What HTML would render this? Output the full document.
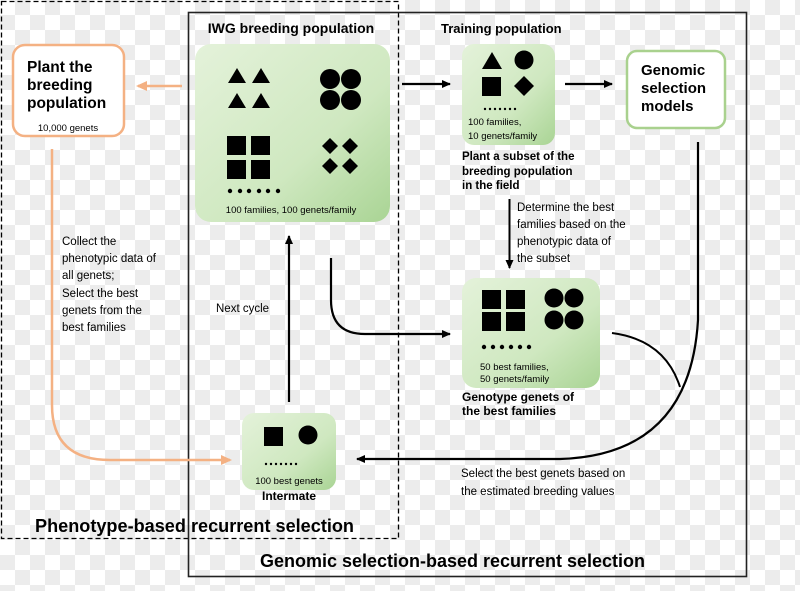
<!DOCTYPE html>
<html><head><meta charset="utf-8"><style>
html,body{margin:0;padding:0}
body{width:800px;height:586px;overflow:hidden;background-color:#fff;
background-image:conic-gradient(#ececec 25%,#fff 0 50%,#ececec 0 75%,#fff 0);background-size:30px 30px;
font-family:"Liberation Sans",sans-serif}
svg text{font-family:"Liberation Sans",sans-serif}
</style></head><body>
<svg width="800" height="586" viewBox="0 0 800 586" xmlns="http://www.w3.org/2000/svg">
<defs>
<linearGradient id="g" x1="0" y1="0" x2="1" y2="1">
<stop offset="0" stop-color="#e4f2da"/><stop offset="0.6" stop-color="#cfe8c0"/><stop offset="1" stop-color="#a9d494"/>
</linearGradient>
<marker id="ab" markerWidth="10" markerHeight="10" refX="8" refY="5" orient="auto" markerUnits="userSpaceOnUse"><path d="M0,1 L9,5 L0,9 z" fill="#000"/></marker>
<marker id="ao" markerWidth="12" markerHeight="12" refX="9" refY="6" orient="auto" markerUnits="userSpaceOnUse"><path d="M0,1 L11,6 L0,11 z" fill="#f4b183"/></marker>
</defs>
<rect x="1.5" y="1.5" width="397" height="537" fill="none" stroke="#000" stroke-width="1.3" stroke-dasharray="5,3"/>
<rect x="188.5" y="12.5" width="558" height="564" fill="none" stroke="#222" stroke-width="1.6"/>

<rect x="13" y="45" width="111" height="91" rx="12" fill="#fff" stroke="#f4b183" stroke-width="2.5"/>
<text font-weight="bold" font-size="15.5" fill="#000"><tspan x="27" y="72">Plant the</tspan><tspan x="27" y="90">breeding</tspan><tspan x="27" y="108">population</tspan></text>
<text x="68" y="131" font-size="9.5" text-anchor="middle">10,000 genets</text>
<line x1="182" y1="86" x2="138" y2="86" stroke="#f4b183" stroke-width="2.5" marker-end="url(#ao)"/>

<text x="291" y="33" font-size="14" font-weight="bold" text-anchor="middle">IWG breeding population</text>
<rect x="195" y="44" width="195" height="178" rx="16" fill="url(#g)"/>
<g fill="#000">
<path d="M228,83 L237,68 L246,83z M252,83 L261,68 L270,83z M228,108 L237,93 L246,108z M252,108 L261,93 L270,108z"/>
<circle cx="330" cy="79" r="10"/><circle cx="351" cy="79" r="10"/><circle cx="330" cy="100" r="10"/><circle cx="351" cy="100" r="10"/>
<rect x="227" y="136" width="19" height="19"/><rect x="251" y="136" width="19" height="19"/><rect x="227" y="160" width="19" height="19"/><rect x="251" y="160" width="19" height="19"/>
<path d="M330,138 l8,8 l-8,8 l-8,-8z M350,138 l8,8 l-8,8 l-8,-8z M330,158 l8,8 l-8,8 l-8,-8z M350,158 l8,8 l-8,8 l-8,-8z"/>
<circle cx="230" cy="191" r="2.2"/><circle cx="240" cy="191" r="2.2"/><circle cx="249" cy="191" r="2.2"/><circle cx="259" cy="191" r="2.2"/><circle cx="268" cy="191" r="2.2"/><circle cx="278" cy="191" r="2.2"/>
</g>
<text x="291" y="213" font-size="9.5" text-anchor="middle">100 families, 100 genets/family</text>

<text x="441" y="33" font-size="13" font-weight="bold">Training population</text>
<line x1="402" y1="84" x2="450" y2="84" stroke="#000" stroke-width="2.2" marker-end="url(#ab)"/>
<rect x="462" y="44" width="93" height="101" rx="12" fill="url(#g)"/>
<g fill="#000">
<path d="M482,69 L492,52 L502,69z"/><circle cx="524" cy="60" r="9.5"/>
<rect x="482" y="77" width="19" height="19"/><path d="M524,76 l10,10 l-10,10 l-10,-10z"/>
<circle cx="485" cy="109" r="1.2"/><circle cx="490" cy="109" r="1.2"/><circle cx="495" cy="109" r="1.2"/><circle cx="500" cy="109" r="1.2"/><circle cx="505" cy="109" r="1.2"/><circle cx="510" cy="109" r="1.2"/><circle cx="515" cy="109" r="1.2"/>
</g>
<text font-size="9.5"><tspan x="468" y="125">100 families,</tspan><tspan x="468" y="139">10 genets/family</tspan></text>
<text font-size="11.5" font-weight="bold"><tspan x="462" y="160">Plant a subset of the</tspan><tspan x="462" y="175">breeding population</tspan><tspan x="462" y="189">in the field</tspan></text>
<line x1="565" y1="84" x2="612" y2="84" stroke="#000" stroke-width="2.2" marker-end="url(#ab)"/>

<rect x="627" y="51" width="98" height="77" rx="10" fill="#fff" stroke="#a9d18e" stroke-width="2.5"/>
<text font-size="15" font-weight="bold"><tspan x="641" y="75">Genomic</tspan><tspan x="641" y="93">selection</tspan><tspan x="641" y="111">models</tspan></text>

<line x1="509.5" y1="199" x2="509.5" y2="268" stroke="#000" stroke-width="2" marker-end="url(#ab)"/>
<text font-size="11.5"><tspan x="517" y="211">Determine the best</tspan><tspan x="517" y="228">families based on the</tspan><tspan x="517" y="245">phenotypic data of</tspan><tspan x="517" y="262">the subset</tspan></text>

<rect x="462" y="278" width="138" height="110" rx="14" fill="url(#g)"/>
<g fill="#000">
<rect x="482" y="290" width="19" height="19"/><rect x="506" y="290" width="19" height="19"/><rect x="482" y="312" width="19" height="19"/><rect x="506" y="312" width="19" height="19"/>
<circle cx="554" cy="298" r="9.5"/><circle cx="574" cy="298" r="9.5"/><circle cx="554" cy="320" r="9.5"/><circle cx="574" cy="320" r="9.5"/>
<circle cx="484" cy="347" r="2.2"/><circle cx="493" cy="347" r="2.2"/><circle cx="502" cy="347" r="2.2"/><circle cx="511" cy="347" r="2.2"/><circle cx="520" cy="347" r="2.2"/><circle cx="529" cy="347" r="2.2"/>
</g>
<text font-size="9.5"><tspan x="480" y="370">50 best families,</tspan><tspan x="480" y="382">50 genets/family</tspan></text>
<text font-size="12" font-weight="bold"><tspan x="462" y="401">Genotype genets of</tspan><tspan x="462" y="415">the best families</tspan></text>

<path d="M331,258 L331,300 Q331,334 365,334 L450,334" fill="none" stroke="#000" stroke-width="2.2" marker-end="url(#ab)"/>
<path d="M698,142 L698,320 Q690,455 560,459 L357,459" fill="none" stroke="#000" stroke-width="2.2" marker-end="url(#ab)"/>
<path d="M612,333 Q665,340 680,387" fill="none" stroke="#000" stroke-width="2"/>
<line x1="289" y1="402" x2="289" y2="236" stroke="#000" stroke-width="2.2" marker-end="url(#ab)"/>
<text x="216" y="312" font-size="11.5">Next cycle</text>
<text font-size="11.5"><tspan x="461" y="477">Select the best genets based on</tspan><tspan x="461" y="495">the estimated breeding values</tspan></text>

<path d="M52,149 L52,405 Q52,460 110,460 L230,460" fill="none" stroke="#f4b183" stroke-width="2.5" marker-end="url(#ao)"/>
<text font-size="11.5"><tspan x="62" y="245">Collect the</tspan><tspan x="62" y="262">phenotypic data of</tspan><tspan x="62" y="279">all genets;</tspan><tspan x="62" y="297">Select the best</tspan><tspan x="62" y="314">genets from the</tspan><tspan x="62" y="331">best families</tspan></text>

<rect x="242" y="413" width="94" height="77" rx="12" fill="url(#g)"/>
<g fill="#000"><rect x="264" y="427" width="19" height="19"/><circle cx="308" cy="435" r="9.5"/>
<circle cx="266" cy="464" r="1.2"/><circle cx="271" cy="464" r="1.2"/><circle cx="276" cy="464" r="1.2"/><circle cx="281" cy="464" r="1.2"/><circle cx="286" cy="464" r="1.2"/><circle cx="291" cy="464" r="1.2"/><circle cx="296" cy="464" r="1.2"/></g>
<text x="289" y="484" font-size="9.5" text-anchor="middle">100 best genets</text>
<text x="289" y="500" font-size="12" font-weight="bold" text-anchor="middle">Intermate</text>

<text x="35" y="532" font-size="18" font-weight="bold" textLength="319" lengthAdjust="spacingAndGlyphs">Phenotype-based recurrent selection</text>
<text x="260" y="567" font-size="18" font-weight="bold" textLength="385" lengthAdjust="spacingAndGlyphs">Genomic selection-based recurrent selection</text>
</svg>
</body></html>
